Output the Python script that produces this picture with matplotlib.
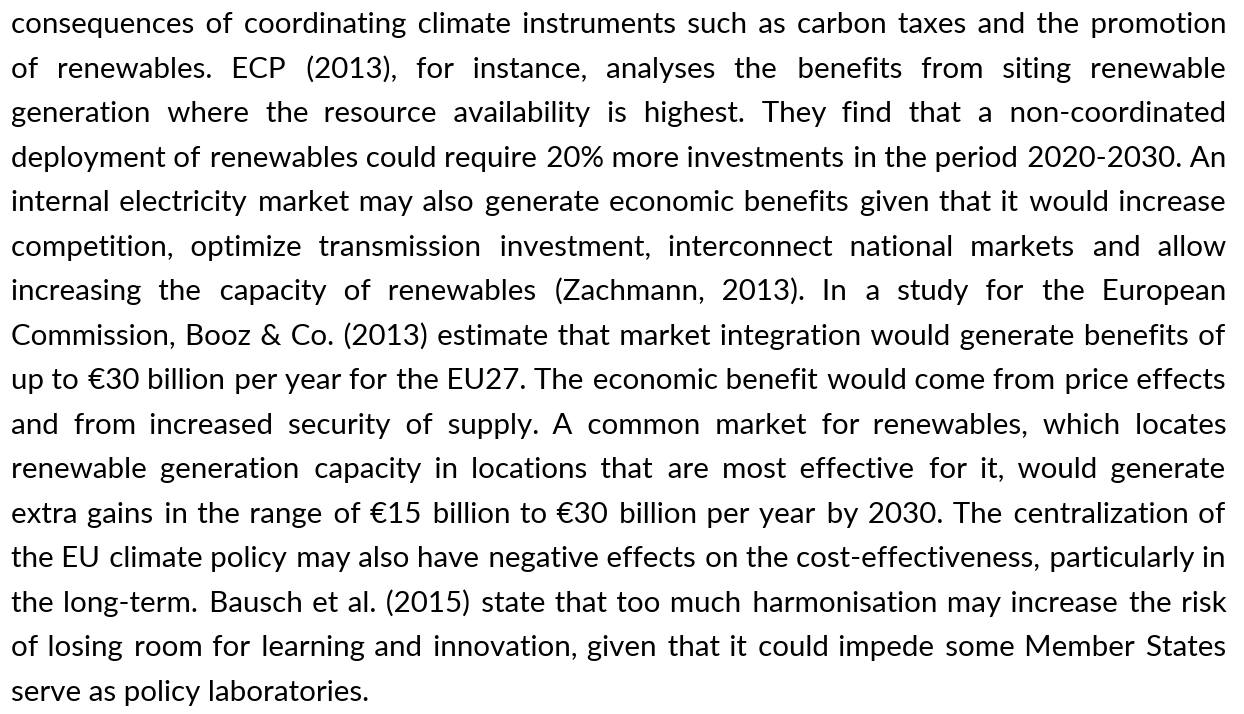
import matplotlib.pyplot as plt

# paragraph lines as they are broken in the reference
lines = [
    "consequences of coordinating climate instruments such as carbon taxes and the promotion",
    "of renewables. ECP (2013), for instance, analyses the benefits from siting renewable",
    "generation where the resource availability is highest. They find that a non-coordinated",
    "deployment of renewables could require 20% more investments in the period 2020-2030. An",
    "internal electricity market may also generate economic benefits given that it would increase",
    "competition, optimize transmission investment, interconnect national markets and allow",
    "increasing the capacity of renewables (Zachmann, 2013). In a study for the European",
    "Commission, Booz & Co. (2013) estimate that market integration would generate benefits of",
    "up to €30 billion per year for the EU27. The economic benefit would come from price effects",
    "and from increased security of supply. A common market for renewables, which locates",
    "renewable generation capacity in locations that are most effective for it, would generate",
    "extra gains in the range of €15 billion to €30 billion per year by 2030. The centralization of",
    "the EU climate policy may also have negative effects on the cost-effectiveness, particularly in",
    "the long-term. Bausch et al. (2015) state that too much harmonisation may increase the risk",
    "of losing room for learning and innovation, given that it could impede some Member States",
    "serve as policy laboratories.",
]

W, H = 1244, 714
left, right = 11, 1226
first_base, last_base = 33, 701
last_width = 358

fig = plt.figure(figsize=(W / 100, H / 100), dpi=100)
fig.patch.set_facecolor('white')
renderer = fig.canvas.get_renderer()
family = ['Lato', 'DejaVu Sans']


def width_of(s, size):
    t = fig.text(0, 0, s, fontsize=size, family=family)
    w = t.get_window_extent(renderer).width
    t.remove()
    return w


# pick the size so the short last line matches its width in the reference
size = 10 * last_width / width_of(lines[-1], 10)

# word gaps are built from normal spaces plus hair spaces, so each line
# stays one text object on one baseline
HAIR = '\u200a'
base = width_of('aa', size)
seps = []
for ns in range(1, 6):
    for nh in range(0, 10):
        s = ' ' * ns + HAIR * nh
        seps.append((s, width_of('a' + s + 'a', size) - base))


def justify(words, widths, span):
    gap = (span - sum(widths)) / (len(words) - 1)
    for _ in range(3):
        out = words[0]
        pos = 0
        for k, w in enumerate(words[1:]):
            target = (k + 1) * gap
            s, sw = min(seps, key=lambda c: abs(pos + c[1] - target))
            pos += sw
            out += s + w
        err = span - width_of(out, size)
        if abs(err) < 0.6:
            break
        gap += err / (len(words) - 1)
    return out


pitch = (last_base - first_base) / (len(lines) - 1)
for i, line in enumerate(lines):
    y = 1 - (first_base + i * pitch) / H
    if i < len(lines) - 1:
        words = line.split(' ')
        widths = [width_of(w, size) for w in words]
        line = justify(words, widths, right - left)
    fig.text(left / W, y, line, fontsize=size, family=family,
             color='black', ha='left', va='baseline')

fig.savefig('out.png', dpi=100, facecolor='white')
